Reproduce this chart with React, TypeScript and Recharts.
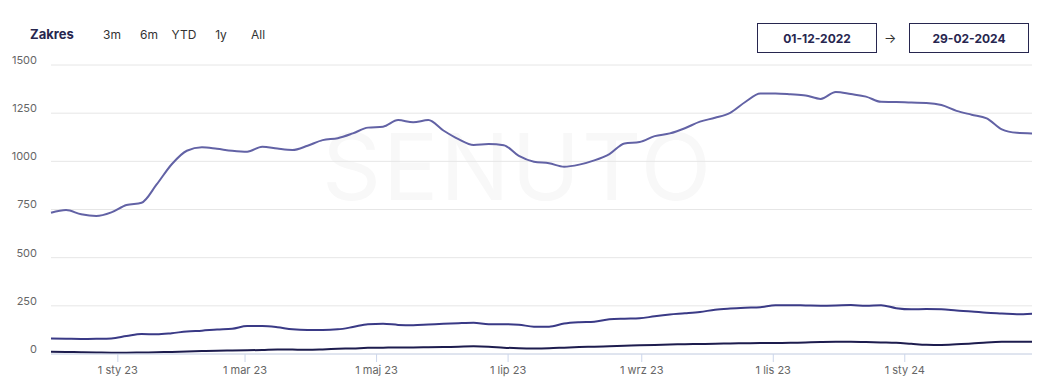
import { LineChart, Line, XAxis, YAxis, CartesianGrid } from "recharts";

const DAY = 86400000;
const START = Date.UTC(2022, 11, 1);
const END = Date.UTC(2024, 1, 29);

// weekly points, 1 Dec 2022 -> 29 Feb 2024
const topValues = [
  733, 747, 725, 716, 735, 773, 785, 880, 985, 1055, 1073, 1065, 1055, 1050,
  1076, 1066, 1059, 1081, 1110, 1120, 1145, 1175, 1180, 1214, 1203, 1214, 1160,
  1115, 1085, 1090, 1084, 1028, 998, 990, 972, 983, 1005, 1038, 1093, 1100,
  1131, 1145, 1172, 1206, 1226, 1252, 1308, 1352, 1352, 1348, 1342, 1324, 1360,
  1349, 1336, 1309, 1308, 1305, 1303, 1292, 1262, 1242, 1223, 1166, 1148, 1145,
];

const midValues = [
  80, 79, 78, 79, 81, 93, 104, 102, 108, 117, 121, 127, 131, 145, 145, 139, 128,
  125, 125, 128, 140, 155, 157, 151, 149, 153, 157, 160, 162, 155, 155, 152, 142,
  142, 158, 165, 168, 180, 183, 185, 196, 205, 211, 218, 230, 236, 240, 243, 253,
  253, 252, 251, 252, 254, 250, 253, 238, 232, 233, 232, 226, 221, 214, 210, 206,
  209,
];

const lowValues = [
  12, 11, 9, 8, 7, 7, 8, 9, 11, 13, 15, 17, 18, 19, 21, 24, 23, 22, 24, 27, 29,
  32, 33, 34, 34, 35, 36, 38, 40, 38, 33, 30, 29, 30, 33, 36, 38, 40, 43, 45, 47,
  49, 51, 52, 53, 55, 56, 57, 57, 58, 60, 62, 63, 64, 62, 60, 58, 53, 48, 47, 50,
  54, 60, 63, 63, 64,
];

const tickDates = [
  Date.UTC(2023, 0, 1),
  Date.UTC(2023, 2, 1),
  Date.UTC(2023, 4, 1),
  Date.UTC(2023, 6, 1),
  Date.UTC(2023, 8, 1),
  Date.UTC(2023, 10, 1),
  Date.UTC(2024, 0, 1),
];
const tickLabels = ["1 sty 23", "1 mar 23", "1 maj 23", "1 lip 23", "1 wrz 23", "1 lis 23", "1 sty 24"];

const yTicks = [0, 250, 500, 750, 1000, 1250, 1500];

const ranges = ["3m", "6m", "YTD", "1y", "All"];
const fromDate = "01-12-2022";
const toDate = "29-02-2024";

const data = topValues.map((v, i) => ({
  t: START + i * 7 * DAY,
  top: v,
  mid: midValues[i],
  low: lowValues[i],
}));

const font = "Inter, 'Open Sans', sans-serif";
const navy = "#27264f";

const YTick = ({ x, y, payload }: any) => (
  <text x={x} y={y - 5} dy="0.35em" textAnchor="end" fill="#666" fontSize={11} fontFamily={font}>
    {payload.value}
  </text>
);

const XTick = ({ x, y, payload }: any) => (
  <text x={x} y={y} dy="0.71em" textAnchor="middle" fill="#666" fontSize={11} fontFamily={font}>
    {tickLabels[tickDates.indexOf(payload.value)]}
  </text>
);

const rangeX = [112, 149, 184, 221, 258];

const dateBox = (left: number, label: string) => (
  <div
    style={{
      position: "absolute",
      left,
      top: 23,
      width: 120,
      height: 30,
      boxSizing: "border-box",
      border: `1px solid ${navy}`,
      display: "flex",
      alignItems: "center",
      justifyContent: "center",
      fontWeight: 700,
      fontSize: 12,
      color: navy,
    }}
  >
    {label}
  </div>
);

export default function App() {
  return (
    <div
      style={{
        position: "absolute",
        left: 0,
        top: 0,
        width: 1063,
        height: 382,
        background: "#fff",
        fontFamily: font,
      }}
    >
      <div
        style={{
          position: "absolute",
          left: 315,
          top: 114,
          width: 405,
          textAlign: "center",
          fontSize: 92,
          fontWeight: 400,
          letterSpacing: 2,
          color: "#f8f8f8",
          lineHeight: "106px",
        }}
      >
        SENUTO
      </div>
      <div
        style={{
          position: "absolute",
          left: 30,
          top: 26,
          fontWeight: 700,
          fontSize: 13,
          color: navy,
        }}
      >
        Zakres
      </div>
      {ranges.map((r, i) => (
        <div
          key={r}
          style={{
            position: "absolute",
            left: rangeX[i] - 20,
            width: 40,
            textAlign: "center",
            top: 27,
            fontSize: 12,
            color: "#333",
          }}
        >
          {r}
        </div>
      ))}
      {dateBox(757, fromDate)}
      <div style={{ position: "absolute", left: 884, top: 30, fontSize: 13, color: "#333" }}>→</div>
      {dateBox(909, toDate)}
      <div style={{ position: "absolute", left: 0, top: 0 }}>
        <LineChart width={1063} height={382} data={data} margin={{ top: 65, right: 31, bottom: 0, left: 0 }}>
          <CartesianGrid vertical={false} stroke="#e6e6e6" />
          <XAxis
            dataKey="t"
            type="number"
            scale="time"
            domain={[START, END]}
            ticks={tickDates}
            height={28}
            axisLine={{ stroke: "#ccd6eb" }}
            tickLine={{ stroke: "#ccd6eb" }}
            tickSize={8}
            tickMargin={4}
            tick={<XTick />}
          />
          <YAxis
            domain={[0, 1500]}
            ticks={yTicks}
            width={51}
            axisLine={false}
            tickLine={false}
            tickSize={6}
            tickMargin={8}
            tick={<YTick />}
          />
          <Line type="monotone" dataKey="top" stroke="#6262a5" strokeWidth={2} dot={false} isAnimationActive={false} />
          <Line type="monotone" dataKey="mid" stroke="#3a3a86" strokeWidth={2} dot={false} isAnimationActive={false} />
          <Line type="monotone" dataKey="low" stroke="#1d1c4e" strokeWidth={2} dot={false} isAnimationActive={false} />
        </LineChart>
      </div>
    </div>
  );
}
